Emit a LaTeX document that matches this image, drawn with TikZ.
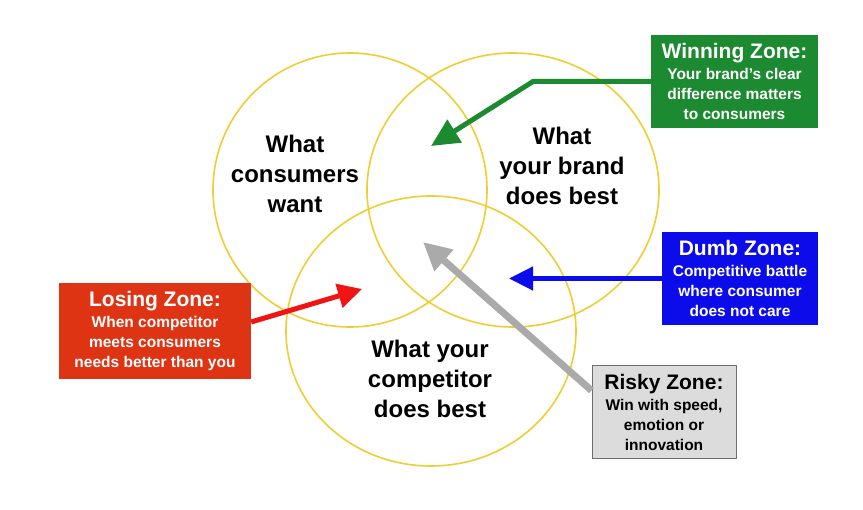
\documentclass[tikz,border=0pt]{standalone}
\usepackage{fontspec}
\setmainfont{Liberation Sans}
\usetikzlibrary{arrows.meta}
\definecolor{ring}{RGB}{240,205,50}
\definecolor{wingreen}{RGB}{28,138,48}
\definecolor{losered}{RGB}{222,52,20}
\definecolor{arrred}{RGB}{240,20,20}
\definecolor{dumbblue}{RGB}{12,12,235}
\definecolor{riskfill}{RGB}{220,220,220}
\definecolor{riskline}{RGB}{110,110,110}
\definecolor{arrgray}{RGB}{170,170,170}
\tikzset{
  ringline/.style={draw=ring, line width=1.6pt},
  setlabel/.style={align=center, font=\fontsize{24}{30}\selectfont\bfseries, text=black},
  zonebox/.style={align=center, inner sep=0pt, text=white, font=\fontsize{15.5}{20}\selectfont\bfseries},
  zarrow/.style={line width=#1, line join=miter},
}
\newcommand{\ztitle}[1]{{\fontsize{21}{22}\selectfont #1}}
\begin{document}
\begin{tikzpicture}[x=1pt,y=-1pt]
\useasboundingbox (0,0) rectangle (863,510);
\fill[white] (0,0) rectangle (863,510);
% circles
\draw[ringline] (350,190) ellipse [x radius=137, y radius=137];
\draw[ringline] (513,190) ellipse [x radius=146, y radius=137];
\draw[ringline] (431,331) ellipse [x radius=145, y radius=135];
% set labels
\node[setlabel] (cons) at (295,174) {What\\consumers\\want};
\node[setlabel] (brand) at (562,166) {What\\your brand\\does best};
\node[setlabel] (comp) at (430,379) {What your\\competitor\\does best};
% boxes
\node[zonebox, fill=wingreen, minimum width=167, minimum height=93] (win) at (734.5,81.5)
  {\ztitle{Winning Zone:}\\[1pt] Your brand's clear\\ difference matters\\ to consumers};
\node[zonebox, fill=losered, minimum width=192, minimum height=96] (lose) at (155,331)
  {\ztitle{Losing Zone:}\\[1pt] When competitor\\ meets consumers\\ needs better than you};
\node[zonebox, fill=dumbblue, minimum width=156, minimum height=93] (dumb) at (740,278.5)
  {\ztitle{Dumb Zone:}\\[1pt] Competitive battle\\ where consumer\\ does not care};
% arrow targets
\coordinate (wtip) at (431,146);
\coordinate (wbend) at (533,81.5);
\coordinate (ltip) at (362,289);
\coordinate (dtip) at (509,278.5);
\coordinate (rtip) at (423,242);
% arrows
\draw[zarrow=5pt, wingreen, -{Triangle[length=28pt,width=26pt]}] (win.west) -- (wbend) -- (wtip);
\draw[zarrow=5pt, arrred, -{Triangle[length=24pt,width=24pt]}] ([yshift=9pt]lose.east) -- (ltip);
\draw[zarrow=4.5pt, dumbblue, -{Triangle[length=24pt,width=23pt]}] (dumb.west) -- (dtip);
\node[zonebox, text=black, fill=riskfill, draw=riskline, line width=1pt, minimum width=144, minimum height=93] (risk) at (664,412.5)
  {\ztitle{Risky Zone:}\\[1pt] Win with speed,\\ emotion or\\ innovation};
\draw[zarrow=7pt, arrgray, -{Triangle[length=28pt,width=27pt]}] ([yshift=22pt]risk.west) -- (rtip);
\end{tikzpicture}
\end{document}
